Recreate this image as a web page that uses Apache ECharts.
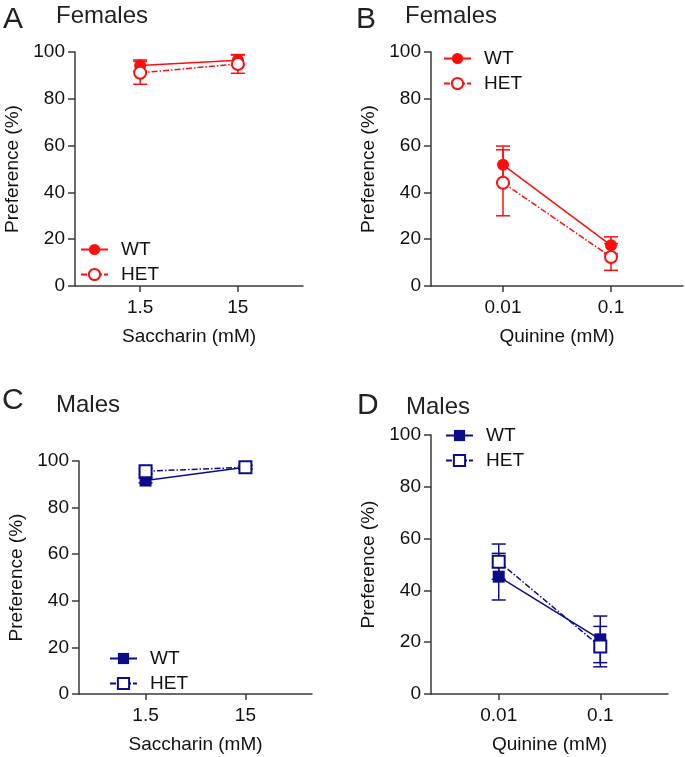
<!DOCTYPE html>
<html><head><meta charset="utf-8">
<script src="https://cdn.jsdelivr.net/npm/echarts@6/dist/echarts.min.js"></script>
<style>html,body{margin:0;padding:0;background:#fff}#c{width:685px;height:757px}</style>
</head><body><div id="c"></div>
<script>
// ---- data ----
const saccharinCats = ['1.5', '15'];
const quinineCats = ['0.01', '0.1'];
const yTicks = [0, 20, 40, 60, 80, 100];

const femSacWT = [94.2, 96.5];
const femSacWTErr = [2.4, 2.2];
const femSacHET = [91.1, 94.9];
const femSacHETErr = [4.9, 4.0];

const femQuiWT = [51.8, 17.4];
const femQuiWTErr = [8.0, 3.6];
const femQuiHET = [44.1, 12.4];
const femQuiHETErr = [14.1, 5.7];

const malSacWT = [91.6, 97.3];
const malSacWTErr = [1.0, 0.8];
const malSacHET = [95.6, 97.3];
const malSacHETErr = [1.2, 0.8];

const malQuiWT = [45.3, 21.1];
const malQuiWTErr = [9.0, 9.0];
const malQuiHET = [51.1, 18.3];
const malQuiHETErr = [6.8, 7.8];

// ---- style ----
const RED = '#ff0d0d';
const NAVY = '#0c0c8a';
const AX = '#3a3a3a';
const FONT = '"Liberation Sans", Arial, sans-serif';
const HETDASH = [6, 2, 1.5, 2];
const FS = 19;

const panels = [
  {grid:{left:75, top:52, width:228, height:234}, cats:saccharinCats, xname:'Saccharin (mM)', color:RED, sym:'circle', esym:'emptyCircle',
   wt:femSacWT, wtE:femSacWTErr, het:femSacHET, hetE:femSacHETErr, nWT:'WT', nHET:'HET', legend:{left:80, top:240}},
  {grid:{left:431, top:52, width:252, height:234}, cats:quinineCats, xname:'Quinine (mM)', color:RED, sym:'circle', esym:'emptyCircle',
   wt:femQuiWT, wtE:femQuiWTErr, het:femQuiHET, hetE:femQuiHETErr, nWT:'WT', nHET:'HET', legend:{left:443, top:49}},
  {grid:{left:79, top:461, width:233, height:233}, cats:saccharinCats, xname:'Saccharin (mM)', color:NAVY, sym:'rect', esym:'emptyRect',
   wt:malSacWT, wtE:malSacWTErr, het:malSacHET, hetE:malSacHETErr, nWT:'WT ', nHET:'HET ', legend:{left:109, top:649}},
  {grid:{left:431, top:435, width:237, height:259}, cats:quinineCats, xname:'Quinine (mM)', color:NAVY, sym:'rect', esym:'emptyRect',
   wt:malQuiWT, wtE:malQuiWTErr, het:malQuiHET, hetE:malQuiHETErr, nWT:'WT ', nHET:'HET ', legend:{left:445, top:426}}
];

const grids = [], xAxes = [], yAxes = [], series = [], legends = [];

function errSeries(i, vals, errs, color) {
  return {
    type: 'custom', xAxisIndex: i, yAxisIndex: i, z: 1, silent: true,
    data: vals.map((v, k) => [k, v, errs[k]]),
    encode: {x: 0, y: 1},
    renderItem: function (params, api) {
      const x = api.value(0), m = api.value(1), e = api.value(2);
      const t = api.coord([x, m + e]), b = api.coord([x, m - e]);
      const hw = 7, st = {stroke: color, lineWidth: 1.5};
      return {type: 'group', children: [
        {type: 'line', shape: {x1: t[0], y1: t[1], x2: b[0], y2: b[1]}, style: st},
        {type: 'line', shape: {x1: t[0] - hw, y1: t[1], x2: t[0] + hw, y2: t[1]}, style: st},
        {type: 'line', shape: {x1: b[0] - hw, y1: b[1], x2: b[0] + hw, y2: b[1]}, style: st}
      ]};
    }
  };
}

panels.forEach((p, i) => {
  grids.push(p.grid);
  xAxes.push({
    type: 'value', gridIndex: i, min: -2/3, max: 5/3,
    axisLine: {show: true, onZero: false, lineStyle: {color: AX, width: 1.5}},
    axisTick: {show: true, length: 6, customValues: [0, 1], lineStyle: {color: AX, width: 1.5}},
    axisLabel: {customValues: [0, 1], formatter: v => p.cats[Math.round(v)], margin: 12, color: '#111', fontSize: FS, fontFamily: FONT},
    splitLine: {show: false},
    name: p.xname, nameLocation: 'middle', nameGap: 41,
    nameTextStyle: {color: '#111', fontSize: FS, fontFamily: FONT}
  });
  yAxes.push({
    type: 'value', gridIndex: i, min: 0, max: 100, interval: 20,
    axisLine: {show: true, onZero: false, lineStyle: {color: AX, width: 1.5}},
    axisTick: {show: true, length: 7, lineStyle: {color: AX, width: 1.5}},
    axisLabel: {margin: 10, color: '#111', fontSize: FS, fontFamily: FONT},
    splitLine: {show: false},
    name: 'Preference (%)', nameLocation: 'middle', nameGap: 53, nameRotate: 90,
    nameTextStyle: {color: '#111', fontSize: FS, fontFamily: FONT}
  });
  series.push(errSeries(i, p.wt, p.wtE, p.color));
  series.push({
    type: 'line', name: p.nWT, xAxisIndex: i, yAxisIndex: i, z: 2,
    data: p.wt.map((v, k) => [k, v]),
    symbol: p.sym, symbolSize: 12, showSymbol: true,
    lineStyle: {color: p.color, width: 1.5},
    itemStyle: {color: p.color, borderWidth: 0},
    animation: false
  });
  series.push(errSeries(i, p.het, p.hetE, p.color));
  series.push({
    type: 'line', name: p.nHET, xAxisIndex: i, yAxisIndex: i, z: 3,
    data: p.het.map((v, k) => [k, v]),
    symbol: p.esym, symbolSize: 12, showSymbol: true,
    lineStyle: {color: p.color, width: 1.5, type: HETDASH},
    itemStyle: {color: p.color, borderColor: p.color, borderWidth: 1.5},
    animation: false
  });
  legends.push({
    data: [p.nWT, p.nHET], orient: 'vertical', left: p.legend.left, top: p.legend.top,
    itemWidth: 27, itemHeight: 14, itemGap: 6, padding: 0, selectedMode: false,
    formatter: n => n.trim(),
    textStyle: {color: '#111', fontSize: FS, fontFamily: FONT, padding: [0, 0, 0, 8]}
  });
});

const titleTexts = [
  {t: 'A', x: 3, y: 20, s: 30}, {t: 'Females', x: 56, y: 16.5, s: 24},
  {t: 'B', x: 356, y: 20, s: 30}, {t: 'Females', x: 405, y: 16.5, s: 24},
  {t: 'C', x: 2, y: 401, s: 30}, {t: 'Males', x: 56, y: 405, s: 24},
  {t: 'D', x: 357, y: 406, s: 30}, {t: 'Males', x: 406, y: 407, s: 24}
];
const graphics = titleTexts.map(o => ({
  type: 'text', left: o.x, top: o.y - o.s * 0.5,
  style: {text: o.t, fontSize: o.s, fontFamily: FONT, fill: '#222'}
}));

const chart = echarts.init(document.getElementById('c'), null, {renderer: 'canvas'});
chart.setOption({
  animation: false,
  backgroundColor: '#fff',
  grid: grids, xAxis: xAxes, yAxis: yAxes, series: series, legend: legends,
  graphic: graphics
});
</script></body></html>
